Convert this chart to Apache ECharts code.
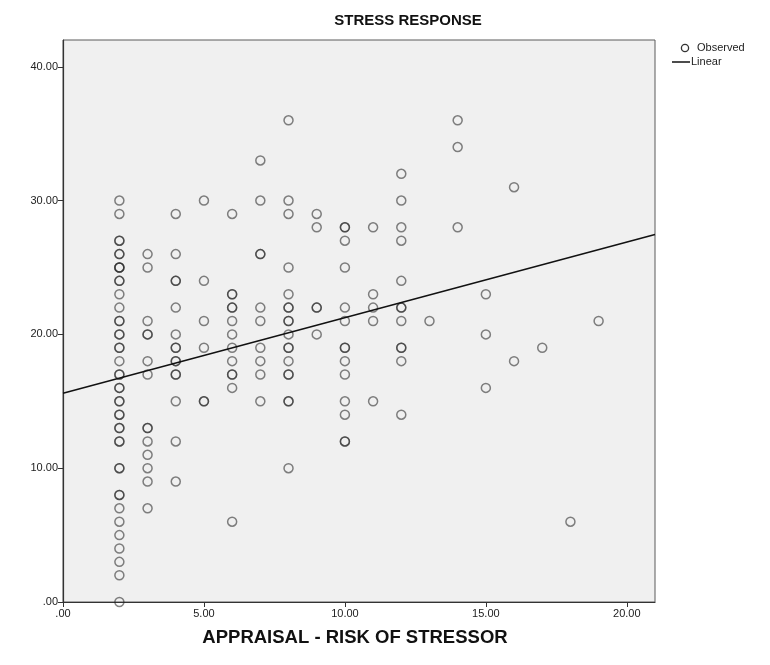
<!DOCTYPE html>
<html>
<head>
<meta charset="utf-8">
<title>Stress response vs appraisal</title>
<script src="https://cdn.jsdelivr.net/npm/echarts@6/dist/echarts.min.js"></script>
<style>
  html, body { margin: 0; padding: 0; background: #ffffff; }
  #chart { width: 770px; height: 665px; }
</style>
</head>
<body>
<div id="chart"></div>
<script>
// Appraisal score (risk of stressor) levels and the observed stress scores at each level
const appraisalLevels = [2, 3, 4, 5, 6, 7, 8, 9, 10, 11, 12, 13, 14, 15, 16, 17, 18, 19];
const stressAt2  = [30,29,27,27,26,26,25,25,25,24,24,23,22,21,21,20,20,19,19,18,17,17,16,16,15,15,14,14,13,13,12,12,10,10,8,8,7,6,5,4,3,2,0];
const stressAt3  = [26,25,21,20,20,18,17,13,13,12,11,10,9,7];
const stressAt4  = [29,26,24,24,22,20,19,19,18,18,17,17,15,12,9];
const stressAt5  = [30,24,21,19,15,15];
const stressAt6  = [29,23,23,22,22,21,20,19,18,17,17,16,6];
const stressAt7  = [33,30,26,26,22,21,19,18,17,15];
const stressAt8  = [36,30,29,25,23,22,22,21,21,20,19,19,18,17,17,15,15,10];
const stressAt9  = [29,28,22,22,20];
const stressAt10 = [28,28,27,25,22,21,19,19,18,17,15,14,12,12];
const stressAt11 = [28,23,22,21,15];
const stressAt12 = [32,30,28,27,24,22,22,21,19,19,18,14];
const stressAt13 = [21];
const stressAt14 = [36,34,28];
const stressAt15 = [23,20,16];
const stressAt16 = [31,18];
const stressAt17 = [19];
const stressAt18 = [6];
const stressAt19 = [21];
const stressGroups = [stressAt2, stressAt3, stressAt4, stressAt5, stressAt6, stressAt7, stressAt8,
  stressAt9, stressAt10, stressAt11, stressAt12, stressAt13, stressAt14, stressAt15, stressAt16,
  stressAt17, stressAt18, stressAt19];

// Linear fit: stress = intercept + slope * appraisal
const fitIntercept = 15.6;
const fitSlope = 0.565;

// Axis extents and tick steps
const xMin = 0, xMax = 21, xStep = 5;
const yMin = 0, yMax = 42, yStep = 10;

// Legend entries
const legendNames = ['Observed', 'Linear'];

const observedPoints = [];
appraisalLevels.forEach((lvl, i) => {
  stressGroups[i].forEach(v => observedPoints.push([lvl, v]));
});
const fitPoints = [[xMin, fitIntercept], [xMax, fitIntercept + fitSlope * xMax]];

const fmt = step => v => (Math.abs(v % step) > 1e-9 ? '' : (v === 0 ? '.00' : v.toFixed(2)));

const FONT = '"Liberation Sans", Arial, sans-serif';
const MARK = 'rgba(40,40,40,0.72)';
const chart = echarts.init(document.getElementById('chart'), null, { renderer: 'canvas' });

chart.setOption({
  backgroundColor: '#ffffff',
  animation: false,
  title: {
    text: 'STRESS RESPONSE',
    left: 403,
    textAlign: 'center',
    top: 8,
    textStyle: { fontFamily: FONT, fontWeight: 'bold', fontSize: 15, color: '#111' }
  },
  // Legend keys drawn as plain shapes next to their labels
  graphic: [
    { type: 'circle', shape: { cx: 685, cy: 48, r: 3.6 },
      style: { fill: 'none', stroke: '#333', lineWidth: 1.3 } },
    { type: 'text', left: 697, top: 42,
      style: { text: legendNames[0], font: '11px ' + FONT, fill: '#222' } },
    { type: 'line', shape: { x1: 672, y1: 62, x2: 690, y2: 62 },
      style: { stroke: '#111', lineWidth: 1.5 } },
    { type: 'text', left: 691, top: 56,
      style: { text: legendNames[1], font: '11px ' + FONT, fill: '#222' } }
  ],
  grid: {
    left: 63, right: 115, top: 40, bottom: 63,
    show: true,
    backgroundColor: '#f0f0f0',
    borderColor: '#5a5a5a',
    borderWidth: 1
  },
  xAxis: {
    type: 'value',
    min: xMin, max: xMax, interval: xStep,
    name: 'APPRAISAL - RISK OF STRESSOR',
    nameLocation: 'middle',
    nameGap: 26,
    nameTextStyle: { fontFamily: FONT, fontWeight: 'bold', fontSize: 18.5, color: '#111', padding: [0, 8, 0, 0] },
    axisLine: { show: true, onZero: false, lineStyle: { color: '#333', width: 1.2 } },
    axisTick: { show: true, length: 5, lineStyle: { color: '#333' } },
    axisLabel: { formatter: fmt(xStep), fontFamily: FONT, fontSize: 11, color: '#222', margin: 6, showMaxLabel: false },
    splitLine: { show: false }
  },
  yAxis: {
    type: 'value',
    min: yMin, max: yMax, interval: yStep,
    axisLine: { show: true, onZero: false, lineStyle: { color: '#333', width: 1.2 } },
    axisTick: { show: true, length: 5, lineStyle: { color: '#333' } },
    axisLabel: { formatter: fmt(yStep), fontFamily: FONT, fontSize: 11, color: '#222', margin: 5, showMaxLabel: false },
    splitLine: { show: false }
  },
  series: [
    {
      name: legendNames[0],
      type: 'scatter',
      data: observedPoints,
      symbol: 'circle',
      symbolSize: 9,
      itemStyle: { color: 'rgba(0,0,0,0)', borderColor: MARK, borderWidth: 1.5 },
      emphasis: { disabled: true },
      z: 3
    },
    {
      name: legendNames[1],
      type: 'line',
      data: fitPoints,
      symbol: 'none',
      lineStyle: { color: '#111', width: 1.5 },
      emphasis: { disabled: true },
      z: 4
    }
  ]
});
</script>
</body>
</html>
